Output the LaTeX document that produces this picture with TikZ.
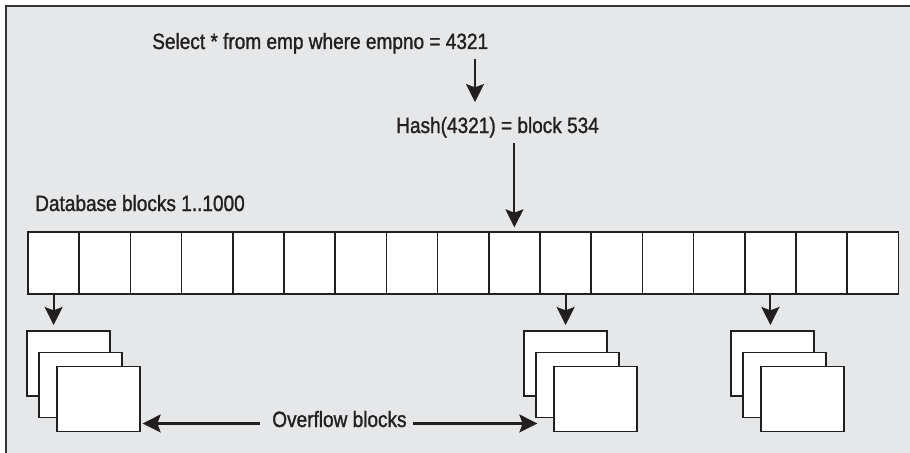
\documentclass[tikz,border=0pt]{standalone}
\usepackage{fontspec}
\setmainfont[FakeStretch=0.86,FakeBold=1.2]{Liberation Sans}
\usetikzlibrary{arrows.meta}
\definecolor{hbInk}{HTML}{231F20}
\definecolor{hbPaper}{HTML}{E6E7E8}
\definecolor{hbFrame}{HTML}{333333}
\tikzset{
  hb diagram/.style={font=\fontsize{16.6}{19}\selectfont, text=hbInk},
  hb cell/.style={draw=hbInk, fill=white, line width=1.2pt,
    minimum width=38.4pt, minimum height=46.5pt, inner sep=0pt, outer sep=0pt},
  hb page/.style={hb cell, minimum width=62.25pt, minimum height=48.75pt},
  hb label/.style={inner sep=0pt, anchor=base west},
  hb arrow/.style={-{Stealth[length=13.5pt,width=13.5pt,inset=2.5pt]}, draw=hbInk, line width=1.6pt}
}
\begin{document}
\begin{tikzpicture}[hb diagram,x=0.75pt,y=-0.75pt]
\useasboundingbox (0,0) rectangle (910,453);
\fill[hbPaper] (5,5) rectangle (910,453);
\draw[hbFrame,line width=1.8pt] (6,453) -- (6,6) -- (910,6);
% the block row
\foreach \i in {0,...,16}
  \node[hb cell] (c\i) at ({28+51.2*(\i+0.5)},263) {};
% overflow stacks, back to front
\foreach \n/\x in {1/68.5,2/565.5,3/772.5}{
  \node[hb page] (sback\n) at (\x,363.5) {};
  \node[hb page] (smid\n) at (\x+12,385) {};
  \node[hb page] (sfront\n) at (\x+30,399) {};
}
\node[hb label] (query) at (152,49) {Select * from emp where empno = 4321};
\node[hb label] (hash) at (396,133) {Hash(4321) = block 534};
\node[hb label] (dblabel) at (35,211) {Database blocks 1..1000};
\node[hb label] (ovf) at (272,427) {Overflow blocks};
\coordinate (a1) at (475,0);
\draw[hb arrow,shorten <=4pt,shorten >=11pt] (query.south -| a1) -- (hash.north -| a1);
\draw[hb arrow,shorten <=4pt,shorten >=3.5pt] (hash.south -| c9) -- (c9.north);
\foreach \c/\n in {0/1,10/2,14/3}
  \draw[hb arrow,shorten >=4.5pt] (c\c.south) -- (c\c.south |- sback\n.north);
\draw[hb arrow,shorten <=9pt,shorten >=2pt] (ovf.mid west) -- (ovf.mid west -| sfront1.east);
\draw[hb arrow,shorten <=4.5pt,shorten >=-1pt] (ovf.mid east) -- (ovf.mid east -| smid2.west);
\end{tikzpicture}
\end{document}
